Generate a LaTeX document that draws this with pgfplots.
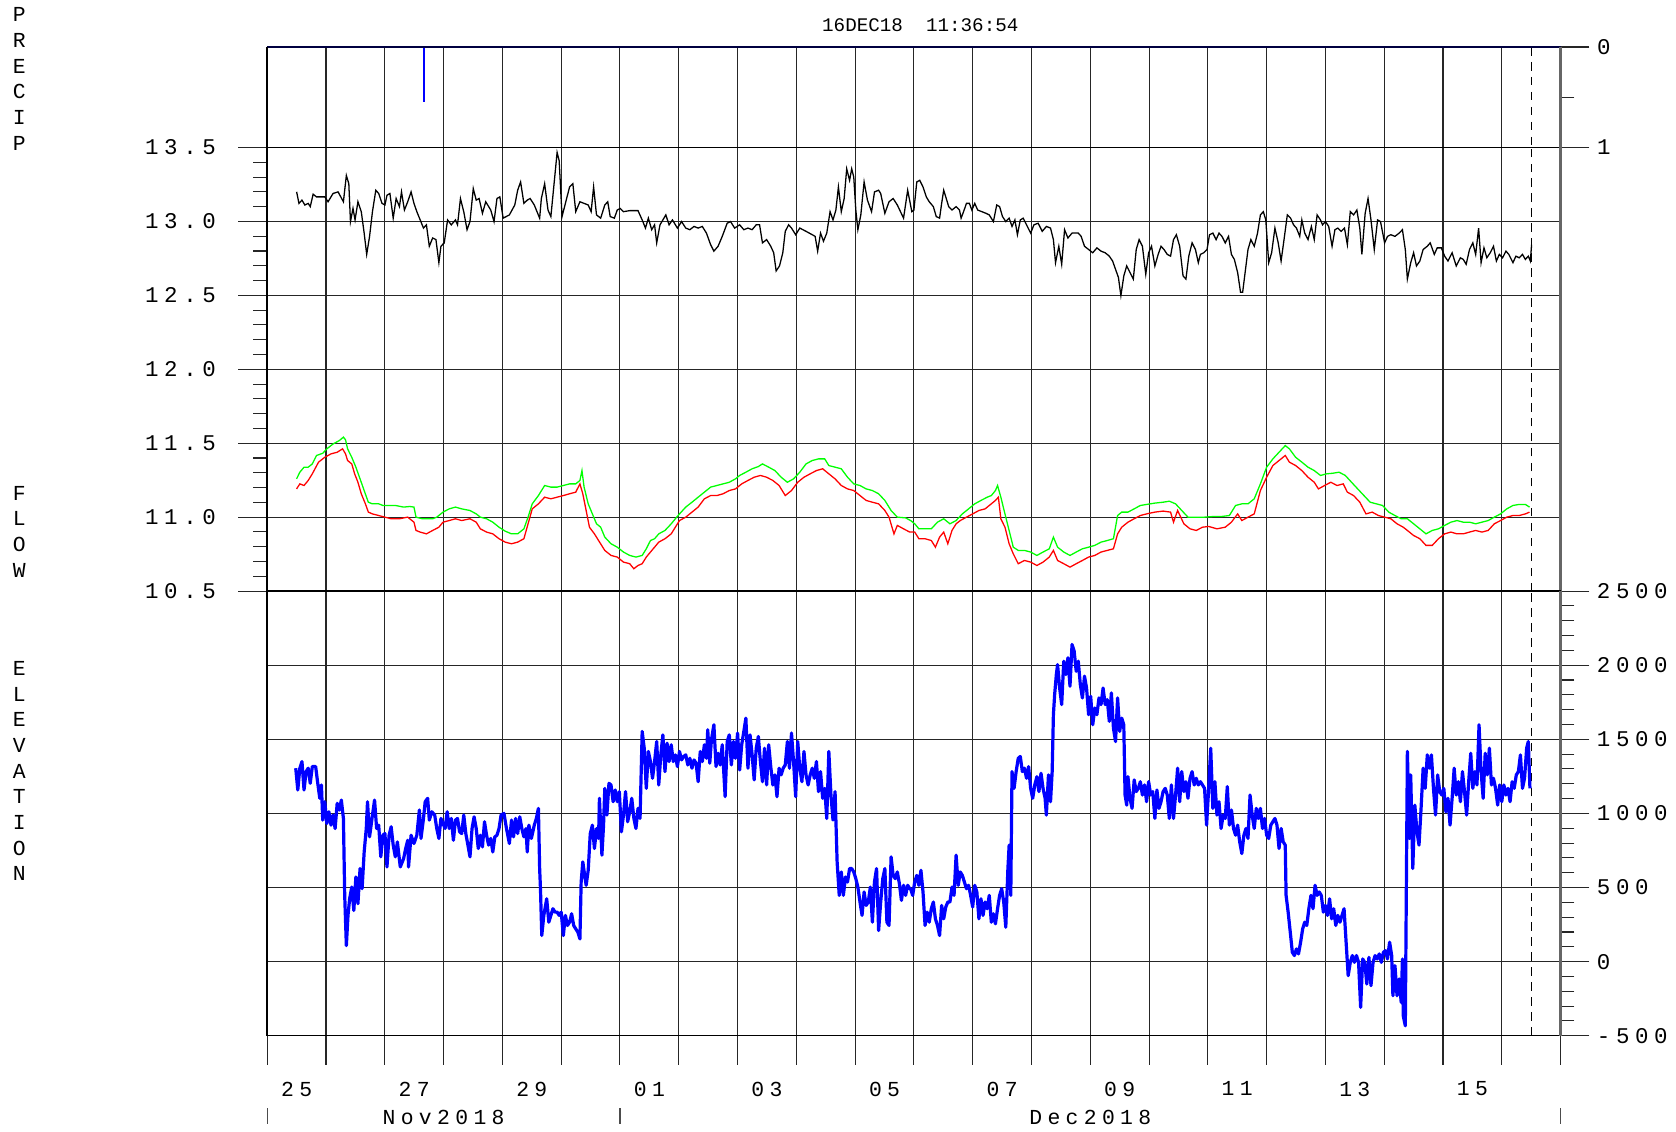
\documentclass[border=0pt]{standalone}
\usepackage{fontspec}
\setmainfont{Liberation Mono}
\newfontfamily\spaced[LetterSpace=25]{Liberation Mono}
\usepackage{pgfplots}
\pgfplotsset{compat=1.18}
\pgfplotsset{
  base/.style={
    scale only axis, width=605pt, xmin=0, xmax=22,
    xtick={0,...,22}, xmajorgrids, ymajorgrids,
    major grid style={black!85, line width=0.5pt},
    axis line style={black, line width=0.6pt},
    tick style={black!85, line width=0.5pt},
    tick align=outside,
    major tick length=13.5pt, minor tick length=6.5pt,
    clip=false,
    extra x ticks={21.51}, extra x tick labels={{}},
    extra x tick style={major tick length=0pt, grid=major, major grid style={black, line width=0.5pt, dash pattern=on 4pt off 3pt}},
    yticklabel style={font=\spaced\fontsize{10.5}{12}\selectfont},
  },
}
\begin{document}
\begin{tikzpicture}
\path[use as bounding box] (0,0) rectangle (784pt,529.5pt);

% ---------------- PRECIP ----------------
\begin{axis}[base, at={(125pt,460.5pt)}, anchor=south west, height=47pt,
  ymin=0, ymax=1, y dir=reverse, ytick={0,1}, yticklabels={0,1}, minor ytick={0.5},
  ytick pos=right, yticklabel pos=right, xtick style={draw=none}, xticklabels={{}}]
\addplot[blue, line width=0.8pt] coordinates {(2.67,0)(2.67,0.55)};
\draw[line width=0.7pt, blue!25!black] (axis cs:0,0) -- (axis cs:22,0);
\draw[line width=1pt] (rel axis cs:0,0) -- (rel axis cs:0,1);
\draw[line width=1.6pt, black!60] (rel axis cs:1,0) -- (rel axis cs:1,1);
\end{axis}

% ---------------- STAGE ----------------
\begin{axis}[base, at={(125pt,253pt)}, anchor=south west, height=207.5pt,
  ymin=10.5, ymax=13.5, ytick={10.5,11,11.5,12,12.5,13,13.5},
  yticklabels={10.5,11.0,11.5,12.0,12.5,13.0,13.5}, minor y tick num=4,
  yticklabel style={xshift=-7pt},
  ytick pos=left, xtick style={draw=none}, xticklabels={{}}]
\addplot[black, line width=0.6pt] coordinates {
(0.50,13.200)(0.54,13.122)(0.591,13.144)(0.640,13.111)(0.697,13.122)(0.732,13.100)(0.781,13.184)(0.838,13.166)(0.979,13.166)(1.035,13.133)
(1.120,13.189)(1.205,13.200)(1.296,13.133)(1.346,13.311)(1.388,13.255)(1.416,12.999)(1.459,13.088)(1.494,13.010)(1.543,13.133)(1.600,13.066)
(1.649,12.921)(1.692,12.777)(1.741,12.899)(1.790,13.066)(1.847,13.211)(1.896,13.189)(1.953,13.122)(2.002,13.111)(2.037,13.177)(2.087,13.189)
(2.143,13.022)(2.193,13.155)(2.249,13.100)(2.284,13.200)(2.334,13.077)(2.390,13.133)(2.447,13.200)(2.496,13.122)(2.545,13.066)(2.602,13.010)
(2.658,12.955)(2.708,12.977)(2.757,12.832)(2.814,12.888)(2.870,12.877)(2.920,12.721)(2.955,12.832)(3.011,12.855)(3.068,13.010)(3.131,12.977)
(3.202,13.010)(3.237,12.977)(3.287,13.155)(3.343,13.066)(3.399,12.944)(3.449,12.999)(3.505,13.222)(3.555,13.144)(3.604,13.155)(3.661,13.055)
(3.717,13.133)(3.802,13.077)(3.858,12.999)(3.908,13.155)(3.957,13.166)(4.013,13.022)(4.119,13.044)(4.211,13.111)(4.260,13.211)(4.310,13.267)
(4.366,13.122)(4.423,13.144)(4.472,13.155)(4.543,13.111)(4.634,13.022)(4.663,13.155)(4.719,13.255)(4.776,13.077)(4.825,13.033)(4.874,13.233)
(4.931,13.467)(4.966,13.411)(5.015,13.033)(5.072,13.122)(5.143,13.233)(5.199,13.255)(5.248,13.066)(5.319,13.133)(5.390,13.122)(5.460,13.111)
(5.510,13.066)(5.552,13.233)(5.601,13.044)(5.672,13.022)(5.742,13.111)(5.792,13.133)(5.834,13.033)(5.905,13.022)(5.954,13.077)(6.004,13.088)
(6.060,13.066)(6.166,13.073)(6.307,13.073)(6.378,13.010)(6.434,12.955)(6.483,13.022)(6.540,12.944)(6.589,12.977)(6.625,12.855)(6.681,12.977)
(6.730,13.010)(6.780,13.044)(6.836,12.977)(6.893,13.010)(6.977,12.955)(7.048,12.999)(7.119,12.955)(7.189,12.944)(7.260,12.966)(7.330,12.955)
(7.401,12.966)(7.471,12.921)(7.542,12.843)(7.598,12.799)(7.669,12.832)(7.740,12.899)(7.824,12.988)(7.881,12.999)(7.951,12.955)(8.036,12.977)
(8.107,12.944)(8.177,12.955)(8.248,12.944)(8.318,12.977)(8.375,12.977)(8.424,12.855)(8.495,12.877)(8.565,12.832)(8.615,12.788)(8.657,12.665)
(8.714,12.699)(8.770,12.788)(8.812,12.933)(8.869,12.977)(8.918,12.955)(8.989,12.910)(9.059,12.955)(9.165,12.933)(9.271,12.910)(9.320,12.899)
(9.363,12.799)(9.412,12.921)(9.462,12.866)(9.518,12.921)(9.574,13.066)(9.624,13.010)(9.673,13.077)(9.716,13.233)(9.765,13.066)(9.814,13.155)
(9.857,13.356)(9.906,13.278)(9.942,13.356)(9.977,13.300)(10.012,13.077)(10.047,12.944)(10.097,13.044)(10.153,13.267)(10.210,13.144)(10.280,13.066)
(10.330,13.200)(10.400,13.211)(10.435,13.189)(10.506,13.055)(10.577,13.133)(10.647,13.155)(10.718,13.111)(10.824,13.022)(10.894,13.211)(10.965,13.066)
(11.000,13.077)(11.049,13.267)(11.099,13.278)(11.155,13.233)(11.211,13.166)(11.261,13.133)(11.331,13.100)(11.380,13.033)(11.437,13.022)(11.472,13.122)
(11.507,13.211)(11.542,13.166)(11.592,13.100)(11.648,13.077)(11.718,13.100)(11.775,13.077)(11.803,13.022)(11.845,13.066)(11.894,13.122)(11.944,13.122)
(11.986,13.077)(12.035,13.122)(12.085,13.077)(12.155,13.066)(12.225,13.055)(12.282,13.044)(12.352,12.999)(12.409,13.111)(12.458,13.100)(12.507,13.033)
(12.563,12.999)(12.620,13.022)(12.669,12.966)(12.718,13.010)(12.761,12.910)(12.810,13.010)(12.859,13.022)(12.916,12.977)(12.986,12.921)(13.042,12.977)
(13.113,12.988)(13.183,12.933)(13.254,12.966)(13.324,12.955)(13.373,12.877)(13.409,12.721)(13.465,12.832)(13.514,12.710)(13.563,12.944)(13.620,12.888)
(13.690,12.921)(13.796,12.921)(13.845,12.899)(13.902,12.832)(13.972,12.810)(14.042,12.788)(14.113,12.821)(14.183,12.799)(14.254,12.788)(14.324,12.765)
(14.380,12.732)(14.430,12.676)(14.479,12.621)(14.521,12.498)(14.571,12.632)(14.620,12.699)(14.676,12.654)(14.732,12.610)(14.782,12.810)(14.831,12.877)
(14.887,12.832)(14.944,12.643)(14.993,12.788)(15.042,12.832)(15.099,12.699)(15.155,12.777)(15.204,12.832)(15.254,12.810)(15.310,12.777)(15.366,12.765)
(15.416,12.877)(15.465,12.910)(15.521,12.832)(15.578,12.632)(15.627,12.610)(15.676,12.765)(15.732,12.855)(15.789,12.810)(15.838,12.721)(15.873,12.777)
(15.930,12.788)(15.986,12.810)(16.028,12.910)(16.085,12.921)(16.141,12.877)(16.190,12.921)(16.240,12.899)(16.296,12.855)(16.352,12.899)(16.401,12.777)
(16.451,12.743)(16.507,12.654)(16.556,12.521)(16.592,12.521)(16.634,12.654)(16.683,12.810)(16.732,12.877)(16.789,12.832)(16.845,12.921)(16.894,13.044)
(16.944,13.066)(16.986,13.010)(17.035,12.721)(17.085,12.788)(17.141,12.955)(17.197,12.855)(17.246,12.732)(17.296,12.877)(17.352,13.044)(17.408,13.022)
(17.458,12.977)(17.507,12.955)(17.563,12.899)(17.599,13.010)(17.648,12.921)(17.704,12.877)(17.761,12.966)(17.810,12.877)(17.859,13.044)(17.916,13.010)
(17.951,12.977)(18.000,12.999)(18.056,12.966)(18.113,12.832)(18.162,12.944)(18.211,12.955)(18.268,12.933)(18.324,12.955)(18.373,12.843)(18.423,13.066)
(18.479,13.044)(18.535,13.077)(18.585,12.955)(18.620,12.777)(18.676,13.055)(18.725,13.155)(18.775,13.010)(18.831,12.810)(18.887,13.010)(18.937,12.999)
(19.007,12.855)(19.056,12.899)(19.113,12.910)(19.183,12.899)(19.254,12.921)(19.310,12.944)(19.359,12.810)(19.394,12.610)(19.451,12.721)(19.500,12.788)
(19.549,12.699)(19.606,12.732)(19.662,12.810)(19.732,12.832)(19.782,12.855)(19.852,12.777)(19.901,12.821)(19.972,12.821)(20.028,12.765)(20.085,12.732)
(20.155,12.788)(20.225,12.699)(20.296,12.754)(20.345,12.743)(20.394,12.710)(20.451,12.810)(20.507,12.855)(20.556,12.777)(20.606,12.955)(20.648,12.721)
(20.697,12.821)(20.746,12.754)(20.803,12.788)(20.859,12.832)(20.908,12.732)(20.958,12.777)(21.014,12.754)(21.071,12.799)(21.120,12.777)(21.190,12.721)
(21.240,12.765)(21.296,12.754)(21.352,12.777)(21.401,12.743)(21.451,12.765)(21.486,12.732)(21.507,12.843)};
\addplot[color={rgb,255:red,0;green,255;blue,0}, line width=0.6pt] coordinates {
(0.499,11.259)(0.555,11.304)(0.626,11.338)(0.697,11.338)(0.767,11.360)(0.838,11.417)(0.944,11.432)(1.014,11.462)(1.120,11.495)(1.226,11.518)
(1.296,11.541)(1.332,11.523)(1.367,11.462)(1.438,11.405)(1.508,11.338)(1.579,11.259)(1.649,11.180)(1.720,11.101)(1.790,11.090)(1.896,11.090)
(1.967,11.079)(2.073,11.079)(2.179,11.079)(2.320,11.068)(2.425,11.072)(2.496,11.068)(2.531,11.000)(2.637,10.989)(2.743,10.989)(2.814,10.989)
(2.884,11.000)(2.990,11.034)(3.096,11.056)(3.202,11.068)(3.308,11.056)(3.449,11.045)(3.555,11.022)(3.625,11.000)(3.731,10.989)(3.837,10.966)
(3.943,10.932)(4.049,10.905)(4.155,10.887)(4.260,10.887)(4.366,10.921)(4.437,11.000)(4.508,11.090)(4.613,11.146)(4.719,11.214)(4.825,11.203)
(4.931,11.203)(5.037,11.214)(5.143,11.225)(5.248,11.225)(5.319,11.248)(5.354,11.315)(5.390,11.203)(5.460,11.090)(5.531,11.022)(5.601,10.955)
(5.672,10.932)(5.742,10.865)(5.848,10.820)(5.954,10.797)(6.060,10.764)(6.166,10.741)(6.272,10.730)(6.378,10.741)(6.448,10.786)(6.519,10.842)
(6.589,10.854)(6.660,10.887)(6.766,10.910)(6.872,10.955)(6.942,10.989)(7.013,11.022)(7.119,11.068)(7.225,11.101)(7.330,11.135)(7.436,11.169)
(7.542,11.203)(7.648,11.214)(7.754,11.225)(7.860,11.236)(7.965,11.259)(8.036,11.282)(8.142,11.304)(8.248,11.327)(8.353,11.342)(8.424,11.360)
(8.530,11.338)(8.636,11.315)(8.742,11.270)(8.848,11.236)(8.953,11.259)(9.059,11.304)(9.165,11.360)(9.271,11.383)(9.377,11.394)(9.483,11.394)
(9.553,11.349)(9.659,11.338)(9.765,11.327)(9.871,11.270)(9.977,11.225)(10.083,11.214)(10.188,11.191)(10.294,11.180)(10.400,11.158)(10.506,11.113)
(10.612,11.045)(10.718,11.000)(10.859,10.995)
(10.944,10.977)(11.014,10.955)(11.085,10.921)(11.190,10.921)(11.296,10.921)(11.401,10.966)(11.507,10.989)(11.613,10.955)(11.718,10.977)(11.824,11.022)
(11.930,11.056)(12.035,11.090)(12.141,11.113)(12.247,11.135)(12.317,11.146)(12.387,11.180)(12.423,11.214)(12.479,11.135)(12.549,11.022)(12.620,10.910)
(12.690,10.797)(12.775,10.775)(12.880,10.775)(12.986,10.764)(13.092,10.741)(13.197,10.764)(13.303,10.786)(13.373,10.865)(13.444,10.797)(13.549,10.764)
(13.655,10.741)(13.761,10.764)(13.866,10.786)(13.972,10.797)(14.077,10.809)(14.183,10.831)(14.289,10.842)(14.394,10.854)(14.465,11.011)(14.535,11.034)
(14.641,11.034)(14.746,11.056)(14.852,11.079)(14.958,11.086)(15.099,11.095)(15.239,11.101)(15.345,11.108)(15.451,11.090)(15.556,11.045)(15.662,11.000)
(15.803,11.000)(15.944,11.000)(16.085,11.004)(16.225,11.004)(16.366,11.011)(16.472,11.079)(16.578,11.090)(16.683,11.090)(16.789,11.124)(16.894,11.225)
(17.000,11.338)(17.106,11.394)(17.211,11.439)(17.317,11.484)(17.387,11.462)(17.493,11.405)(17.599,11.372)(17.704,11.338)(17.810,11.315)(17.916,11.282)
(18.021,11.293)(18.127,11.297)(18.232,11.304)(18.338,11.282)(18.444,11.236)(18.549,11.191)(18.655,11.146)(18.761,11.101)(18.866,11.090)(18.972,11.079)
(19.077,11.034)(19.183,11.011)(19.289,10.989)(19.394,10.989)(19.500,10.955)(19.606,10.921)(19.711,10.887)(19.817,10.910)(19.923,10.921)(20.028,10.944)
(20.134,10.966)(20.239,10.977)(20.345,10.966)(20.451,10.966)(20.556,10.955)(20.662,10.966)(20.768,10.977)(20.873,11.000)(20.979,11.022)(21.085,11.056)
(21.190,11.079)(21.296,11.086)(21.401,11.086)(21.472,11.068)};
\addplot[color={rgb,255:red,255;green,0;blue,0}, line width=0.6pt] coordinates {
(0.499,11.191)(0.555,11.225)(0.626,11.214)(0.697,11.248)(0.767,11.293)(0.873,11.372)(0.979,11.405)(1.085,11.428)(1.190,11.439)(1.282,11.462)
(1.332,11.428)(1.367,11.383)(1.438,11.360)(1.487,11.293)(1.543,11.236)(1.600,11.158)(1.670,11.090)(1.720,11.034)(1.790,11.022)(1.896,11.011)
(2.002,11.000)(2.108,10.989)(2.249,10.989)(2.390,11.000)(2.496,10.966)(2.531,10.910)(2.602,10.899)(2.708,10.887)(2.814,10.910)(2.920,10.932)
(2.990,10.966)(3.096,10.977)(3.202,10.989)(3.308,10.977)(3.449,10.989)(3.555,10.966)(3.625,10.921)(3.731,10.899)(3.837,10.887)(3.943,10.854)
(4.049,10.831)(4.155,10.820)(4.260,10.831)(4.366,10.854)(4.437,10.955)(4.508,11.056)(4.613,11.090)(4.719,11.135)(4.825,11.124)(4.931,11.135)
(5.037,11.146)(5.143,11.158)(5.248,11.169)(5.319,11.225)(5.368,11.158)(5.425,11.045)(5.481,10.932)(5.566,10.887)(5.636,10.842)(5.742,10.775)
(5.848,10.741)(5.954,10.730)(6.060,10.696)(6.166,10.685)(6.236,10.651)(6.307,10.673)(6.378,10.685)(6.448,10.730)(6.519,10.764)(6.589,10.797)
(6.660,10.831)(6.766,10.854)(6.872,10.887)(6.942,10.932)(7.013,10.977)(7.119,11.000)(7.225,11.034)(7.330,11.068)(7.436,11.124)(7.542,11.146)
(7.648,11.146)(7.754,11.158)(7.860,11.180)(7.965,11.191)(8.071,11.225)(8.177,11.248)(8.283,11.270)(8.389,11.282)(8.495,11.270)(8.601,11.248)
(8.707,11.214)(8.812,11.146)(8.918,11.180)(9.024,11.236)(9.130,11.270)(9.236,11.293)(9.342,11.315)(9.448,11.327)(9.553,11.293)(9.659,11.259)
(9.765,11.214)(9.871,11.191)(9.977,11.180)(10.083,11.146)(10.188,11.113)(10.294,11.101)(10.400,11.090)(10.506,11.045)(10.577,11.000)(10.661,10.887)
(10.718,10.944)(10.824,10.921)(10.929,10.899)
(11.014,10.899)(11.085,10.854)(11.190,10.854)(11.296,10.842)(11.366,10.797)(11.437,10.865)(11.507,10.899)(11.577,10.820)(11.648,10.910)(11.718,10.955)
(11.789,10.977)(11.894,11.000)(12.000,11.022)(12.106,11.045)(12.211,11.056)(12.317,11.090)(12.387,11.113)(12.437,11.135)(12.479,10.989)(12.549,10.932)
(12.620,10.820)(12.690,10.752)(12.775,10.685)(12.880,10.707)(12.986,10.696)(13.092,10.673)(13.197,10.696)(13.303,10.730)(13.373,10.775)(13.444,10.707)
(13.549,10.685)(13.655,10.662)(13.761,10.685)(13.866,10.707)(13.972,10.730)(14.077,10.741)(14.183,10.764)(14.289,10.775)(14.394,10.786)(14.465,10.887)
(14.535,10.932)(14.641,10.966)(14.746,10.989)(14.852,11.011)(14.958,11.022)(15.099,11.034)(15.239,11.041)(15.366,11.034)(15.416,10.966)(15.486,11.045)
(15.592,10.955)(15.697,10.921)(15.803,10.910)(15.909,10.932)(16.014,10.937)(16.155,10.921)(16.296,10.932)(16.401,10.966)(16.507,11.022)(16.578,10.977)
(16.683,11.000)(16.789,11.022)(16.894,11.180)(17.000,11.270)(17.106,11.349)(17.211,11.383)(17.317,11.417)(17.387,11.372)(17.493,11.349)(17.599,11.315)
(17.704,11.270)(17.810,11.236)(17.881,11.191)(17.986,11.214)(18.092,11.236)(18.197,11.214)(18.303,11.225)(18.373,11.169)(18.479,11.146)(18.585,11.101)
(18.690,11.022)(18.796,11.034)(18.901,11.011)(19.007,11.000)(19.113,10.989)(19.218,10.955)(19.324,10.932)(19.394,10.910)(19.500,10.876)(19.606,10.854)
(19.711,10.809)(19.817,10.809)(19.923,10.854)(20.028,10.887)(20.134,10.899)(20.239,10.887)(20.345,10.887)(20.451,10.899)(20.556,10.910)(20.662,10.899)
(20.768,10.910)(20.873,10.955)(20.979,10.977)(21.085,11.000)(21.190,11.011)(21.296,11.011)(21.401,11.022)(21.472,11.034)};
\draw[line width=1pt] (rel axis cs:0,0) -- (rel axis cs:0,1);
\draw[line width=1.6pt, black!60] (rel axis cs:1,0) -- (rel axis cs:1,1);
\end{axis}

% ---------------- ELEVATION ----------------
\begin{axis}[base, at={(125pt,45pt)}, anchor=south west, height=208pt,
  ymin=-500, ymax=2500, ytick={-500,0,500,1000,1500,2000,2500},
  yticklabels={-500,0,500,1000,1500,2000,2500}, minor y tick num=4,
  ytick pos=right, yticklabel pos=right, xtick pos=bottom,
  xticklabels={25,{},27,{},29,{},01,{},03,{},05,{},07,{},09,{},11,{},13,{},15,{},{}},
  xticklabel style={font=\spaced\fontsize{10}{12}\selectfont, xshift=13.75pt, yshift=-4.5pt}]
\addplot[color={rgb,255:red,0;green,0;blue,255}, line width=1.5pt, line join=round] coordinates {
(0.485,1305)(0.520,1158)(0.555,1305)(0.591,1350)(0.626,1158)(0.661,1282)(0.697,1305)(0.732,1203)(0.767,1316)(0.824,1316)
(0.852,1226)(0.894,1102)(0.922,1192)(0.944,955)(0.979,1079)(1.014,932)(1.049,1011)(1.085,921)(1.120,989)(1.155,898)
(1.190,1068)(1.226,1023)(1.261,1090)(1.296,966)(1.318,447)(1.346,108)(1.374,312)(1.402,424)(1.438,503)(1.473,345)
(1.508,571)(1.543,391)(1.579,628)(1.614,492)(1.649,740)(1.685,898)(1.706,1079)(1.741,842)(1.790,989)(1.826,1090)
(1.861,898)(1.896,921)(1.932,707)(1.967,853)(2.002,864)(2.037,639)(2.073,853)(2.108,910)(2.143,786)(2.179,707)
(2.214,808)(2.263,639)(2.320,695)(2.355,763)(2.390,819)(2.404,639)(2.447,853)(2.496,797)(2.545,853)(2.588,1023)
(2.616,831)(2.658,966)(2.687,1079)(2.729,1102)(2.757,955)(2.800,1011)(2.849,989)(2.884,898)(2.920,831)(2.955,966)
(3.026,898)(3.061,1011)(3.096,898)(3.131,966)(3.167,819)(3.202,955)(3.237,966)(3.272,876)(3.308,864)(3.343,989)
(3.378,864)(3.414,786)(3.449,707)(3.484,898)(3.519,977)(3.555,898)(3.590,763)(3.625,853)(3.661,774)(3.696,944)
(3.731,853)(3.766,786)(3.802,831)(3.837,740)(3.872,842)(3.908,853)(3.943,898)(3.978,989)(4.027,1000)(4.070,898)
(4.119,797)(4.155,955)(4.190,842)(4.225,966)(4.260,864)(4.296,977)(4.331,898)(4.366,842)(4.402,898)(4.423,740)
(4.451,921)(4.493,831)(4.543,921)(4.578,966)(4.613,1034)(4.634,628)(4.648,492)(4.670,176)(4.705,312)(4.754,424)
(4.790,266)(4.825,312)(4.860,357)(4.896,334)(4.931,334)(4.966,312)(5.001,334)(5.037,176)(5.072,312)(5.107,244)
(5.143,266)(5.178,323)(5.213,244)(5.248,221)(5.284,199)(5.319,153)(5.340,537)(5.368,673)(5.404,571)(5.425,515)
(5.460,616)(5.495,864)(5.531,921)(5.566,763)(5.601,898)(5.636,831)(5.651,1102)(5.693,718)(5.721,921)(5.742,1169)
(5.778,989)(5.813,1203)(5.848,1192)(5.884,1079)(5.919,1158)(5.954,1079)(5.989,1147)(6.025,876)(6.060,989)(6.095,1147)
(6.131,944)(6.166,1011)(6.201,1102)(6.237,966)(6.272,898)(6.307,1034)(6.342,966)(6.378,1553)(6.413,1440)(6.448,1169)
(6.483,1418)(6.519,1350)(6.554,1237)(6.589,1350)(6.625,1485)(6.660,1192)(6.695,1395)(6.730,1530)(6.766,1282)(6.801,1474)
(6.836,1350)(6.872,1463)(6.907,1350)(6.942,1395)(6.977,1316)(7.013,1418)(7.048,1361)(7.083,1384)(7.119,1395)(7.154,1327)
(7.189,1372)(7.225,1305)(7.260,1361)(7.295,1339)(7.330,1214)(7.366,1418)(7.401,1350)(7.436,1463)(7.471,1372)(7.493,1564)
(7.528,1339)(7.556,1497)(7.598,1598)(7.634,1316)(7.669,1406)(7.704,1327)(7.740,1463)(7.789,1113)(7.824,1485)(7.860,1530)
(7.895,1327)(7.930,1485)(7.965,1372)(8.001,1542)(8.036,1293)(8.071,1463)(8.107,1553)(8.142,1643)(8.177,1305)(8.213,1530)
(8.248,1395)(8.283,1226)(8.318,1440)(8.354,1519)(8.389,1350)(8.424,1214)(8.459,1440)(8.495,1192)(8.530,1463)(8.565,1316)
(8.601,1192)(8.636,1260)(8.671,1113)(8.707,1305)(8.742,1260)(8.777,1305)(8.812,1327)(8.848,1485)(8.883,1305)(8.918,1542)
(8.953,1350)(8.989,1113)(9.024,1485)(9.059,1305)(9.095,1214)(9.130,1418)(9.165,1260)(9.201,1192)(9.236,1260)(9.271,1305)
(9.306,1237)(9.342,1350)(9.377,1147)(9.412,1282)(9.448,1102)(9.483,1169)(9.518,966)(9.553,1418)(9.589,1124)(9.624,955)
(9.659,1147)(9.694,673)(9.730,447)(9.765,605)(9.800,447)(9.836,571)(9.871,537)(9.906,628)(9.942,628)(9.977,605)
(10.012,560)(10.047,503)(10.083,402)(10.118,312)(10.153,470)(10.188,379)(10.224,402)(10.259,503)(10.294,266)(10.329,537)
(10.365,628)(10.400,210)(10.435,402)(10.471,560)(10.506,628)(10.541,266)(10.577,244)(10.612,707)(10.647,582)(10.683,560)
(10.718,605)(10.753,526)(10.788,413)(10.824,515)(10.859,447)(10.894,515)(10.929,492)
(10.944,492)(10.979,447)(11.014,537)(11.049,582)(11.085,515)(11.120,616)(11.155,470)(11.190,244)(11.225,334)(11.261,266)
(11.296,357)(11.331,402)(11.366,289)(11.401,244)(11.437,176)(11.472,379)(11.507,289)(11.542,368)(11.577,402)(11.613,402)
(11.648,503)(11.683,447)(11.718,718)(11.754,515)(11.789,605)(11.824,582)(11.859,537)(11.894,492)(11.930,515)(11.965,447)
(12.000,368)(12.035,515)(12.071,470)(12.106,289)(12.141,424)(12.176,312)(12.211,402)(12.247,357)(12.282,447)(12.317,266)
(12.352,323)(12.387,255)(12.423,357)(12.458,447)(12.493,492)(12.528,402)(12.563,232)(12.599,628)(12.620,786)(12.648,447)
(12.669,1282)(12.704,1169)(12.739,1282)(12.775,1372)(12.810,1384)(12.845,1282)(12.880,1305)(12.916,1237)(12.951,1316)(12.986,1169)
(13.021,1102)(13.056,1192)(13.092,1248)(13.127,1147)(13.162,1271)(13.197,1169)(13.232,1102)(13.253,989)(13.289,1260)(13.324,1079)
(13.352,1282)(13.373,1666)(13.394,1801)(13.423,1937)(13.444,2004)(13.479,1846)(13.514,1734)(13.549,2027)(13.585,1937)(13.620,2050)
(13.655,1858)(13.690,2140)(13.726,2095)(13.761,1959)(13.796,2027)(13.831,1869)(13.866,1779)(13.902,1926)(13.937,1846)(13.972,1666)
(14.007,1790)(14.042,1598)(14.078,1711)(14.113,1666)(14.148,1779)(14.183,1734)(14.218,1846)(14.254,1734)(14.289,1768)(14.324,1621)
(14.359,1813)(14.394,1576)(14.430,1485)(14.465,1779)(14.500,1553)(14.535,1643)(14.570,1598)(14.592,1124)(14.620,1056)(14.641,1248)
(14.676,1102)(14.711,1034)(14.747,1226)(14.782,1147)(14.817,1169)(14.852,1214)(14.887,1124)(14.923,1192)(14.958,1079)(14.993,1214)
(15.028,1124)(15.063,1147)(15.099,966)(15.134,1158)(15.169,1034)(15.204,1079)(15.239,1147)(15.275,1169)(15.310,1124)(15.345,966)
(15.380,1192)(15.416,966)(15.451,1124)(15.486,1305)(15.521,1079)(15.556,1282)(15.592,1147)(15.627,1214)(15.662,1102)(15.697,1237)
(15.732,1282)(15.768,1192)(15.803,1237)(15.838,1192)(15.873,1214)(15.909,1192)(15.944,1169)(15.979,921)(16.014,1169)(16.049,1440)
(16.085,1034)(16.120,1214)(16.155,989)(16.190,1079)(16.225,898)(16.261,989)(16.296,966)(16.331,1181)(16.366,921)(16.402,1023)
(16.437,898)(16.472,853)(16.507,921)(16.542,808)(16.578,729)(16.613,853)(16.648,898)(16.683,831)(16.718,1124)(16.754,989)
(16.789,898)(16.824,1034)(16.859,966)(16.894,1034)(16.930,898)(16.965,966)(17.000,853)(17.035,831)(17.071,921)(17.106,944)
(17.141,966)(17.176,921)(17.211,763)(17.247,898)(17.282,808)(17.317,786)(17.331,447)(17.366,334)(17.402,199)(17.437,63)
(17.472,41)(17.507,86)(17.542,52)(17.578,131)(17.613,221)(17.648,266)(17.683,244)(17.718,357)(17.754,447)(17.789,357)
(17.824,515)(17.859,447)(17.894,470)(17.930,447)(17.965,334)(18.000,379)(18.035,312)(18.071,424)(18.106,289)(18.141,357)
(18.176,244)(18.211,312)(18.247,266)(18.282,312)(18.317,357)(18.352,131)(18.387,-95)(18.423,-5)(18.458,41)(18.493,-5)
(18.528,41)(18.564,-5)(18.599,-309)(18.634,18)(18.669,-5)(18.704,-151)(18.740,29)(18.775,-162)(18.810,-5)(18.845,41)
(18.880,18)(18.916,52)(18.951,-5)(18.986,63)(19.021,74)(19.056,18)(19.092,131)(19.127,41)(19.148,-230)(19.183,-27)
(19.218,-230)(19.254,-117)(19.289,-275)(19.310,18)(19.324,-366)(19.359,-433)(19.394,1418)(19.430,831)(19.451,1260)(19.486,628)
(19.521,1056)(19.557,876)(19.592,786)(19.627,1034)(19.662,1305)(19.697,1169)(19.733,1395)(19.768,1305)(19.803,1395)(19.838,1169)
(19.873,989)(19.909,1260)(19.944,1147)(19.979,1124)(20.014,1169)(20.049,1011)(20.085,1102)(20.120,921)(20.155,1102)(20.190,1305)
(20.225,1124)(20.261,1214)(20.296,1079)(20.331,1282)(20.366,1147)(20.402,989)(20.437,1214)(20.472,1406)(20.507,1169)(20.542,1282)
(20.578,1192)(20.613,1598)(20.648,1282)(20.683,1102)(20.718,1406)(20.754,1260)(20.789,1440)(20.824,1192)(20.859,1237)(20.894,1169)
(20.930,1056)(20.965,1192)(21.000,1079)(21.035,1192)(21.070,1124)(21.106,1169)(21.141,1079)(21.176,1214)(21.211,1169)(21.247,1260)
(21.282,1282)(21.317,1395)(21.352,1169)(21.387,1237)(21.423,1440)(21.451,1485)(21.479,1169)};
\draw[line width=1pt] (rel axis cs:0,0) -- (rel axis cs:0,1);
\draw[line width=1.6pt, black!60] (rel axis cs:1,0) -- (rel axis cs:1,1);
\draw[black!70, line width=0.6pt] ([yshift=-34pt]axis cs:0,-500) -- ([yshift=-41.5pt]axis cs:0,-500);
\draw[black!70, line width=0.6pt] ([yshift=-34pt]axis cs:6,-500) -- ([yshift=-41.5pt]axis cs:6,-500);
\draw[black!70, line width=0.6pt] ([yshift=-34pt]axis cs:22,-500) -- ([yshift=-41.5pt]axis cs:22,-500);
\node[font=\spaced\fontsize{10}{12}\selectfont, anchor=base] at (axis cs:3,-500) [yshift=-41.5pt] {Nov2018};
\node[font=\spaced\fontsize{10}{12}\selectfont, anchor=base] at (axis cs:14,-500) [yshift=-41.5pt] {Dec2018};
\end{axis}

% ---------------- side labels and title ----------------
\node[font=\fontsize{10}{12}\selectfont, align=center, anchor=north, inner sep=0pt] at (9pt,526pt) {P\\R\\E\\C\\I\\P};
\node[font=\fontsize{10}{12}\selectfont, align=center, anchor=north, inner sep=0pt] at (9pt,302.3pt) {F\\L\\O\\W};
\node[font=\fontsize{10}{12}\selectfont, align=center, anchor=north, inner sep=0pt] at (9pt,220.3pt) {E\\L\\E\\V\\A\\T\\I\\O\\N};
\node[font=\fontsize{9}{10}\selectfont] at (430.5pt,517.5pt) {16DEC18\ \ 11:36:54};
\end{tikzpicture}
\end{document}
